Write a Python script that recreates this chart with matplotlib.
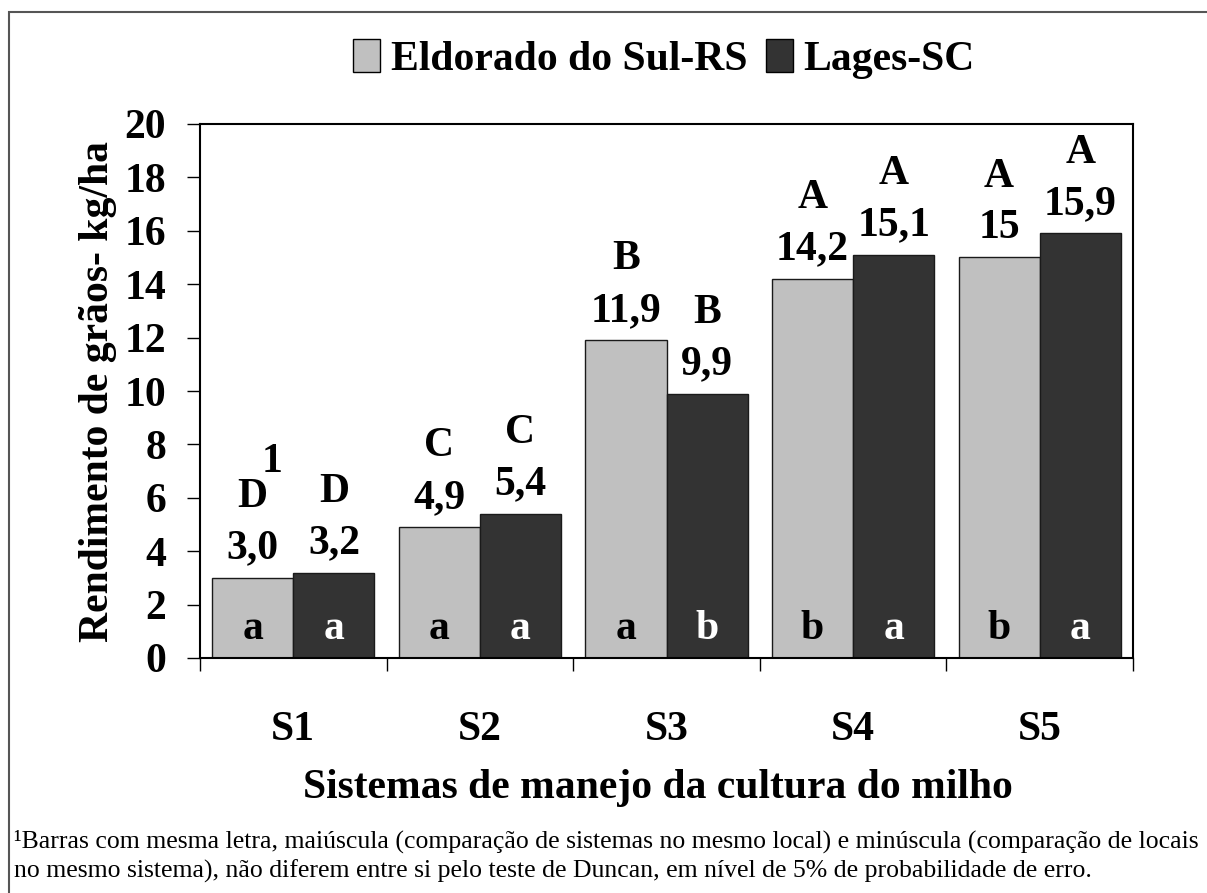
import matplotlib
matplotlib.use('Agg')
import matplotlib.pyplot as plt
import numpy as np
from matplotlib.patches import Patch, Rectangle

plt.rcParams['font.family'] = ['Liberation Serif', 'DejaVu Serif']

# data
systems = ['S1', 'S2', 'S3', 'S4', 'S5']
eldorado = [3.0, 4.9, 11.9, 14.2, 15.0]
lages = [3.2, 5.4, 9.9, 15.1, 15.9]
eldorado_txt = ['3,0', '4,9', '11,9', '14,2', '15']
lages_txt = ['3,2', '5,4', '9,9', '15,1', '15,9']
eldorado_upper = ['D', 'C', 'B', 'A', 'A']
lages_upper = ['D', 'C', 'B', 'A', 'A']
eldorado_lower = ['a', 'a', 'a', 'b', 'b']
lages_lower = ['a', 'a', 'b', 'a', 'a']

GRAY = '#c0c0c0'
DARK = '#333333'
FS = 30

W, H = 1207, 893
fig = plt.figure(figsize=(W / 100, H / 100), dpi=100)
ax = fig.add_axes([200 / W, 1 - 658 / H, 933 / W, 534 / H])

x = np.arange(len(systems))
bw = 0.435
ax.bar(x - bw / 2, eldorado, bw, color=GRAY, edgecolor='#1a1a1a', linewidth=1)
ax.bar(x + bw / 2, lages, bw, color=DARK, edgecolor='#1a1a1a', linewidth=1)

bold = dict(fontsize=FS, fontweight='bold', ha='center', va='baseline')
for i in range(len(systems)):
    for xpos, val, txt, up, low, lc in [
        (x[i] - bw / 2, eldorado[i], eldorado_txt[i], eldorado_upper[i], eldorado_lower[i], 'black'),
        (x[i] + bw / 2, lages[i], lages_txt[i], lages_upper[i], lages_lower[i], 'white'),
    ]:
        ax.annotate(txt, (xpos, val), xytext=(0, 14), textcoords='offset points', **bold)
        ax.annotate(up, (xpos, val), xytext=(0, 51), textcoords='offset points', **bold)
        ax.text(xpos, 0.7, low, color=lc, **bold)

# footnote marker next to the first letter
ax.annotate('1', (x[0] - bw / 2, eldorado[0]), xytext=(14, 76),
            textcoords='offset points', **bold)

ax.set_xlim(-0.5, len(systems) - 0.5)
ax.set_ylim(0, 20)
ax.set_yticks(np.arange(0, 21, 2))
ax.set_xticks(np.arange(-0.5, len(systems), 1.0))
ax.set_xticklabels([])
ax.set_xticks(x, systems, minor=True)
ax.tick_params(axis='y', which='major', direction='out', length=9.5, width=1,
               pad=15, labelsize=FS)
ax.tick_params(axis='x', which='major', direction='out', length=9.5, width=1)
ax.tick_params(axis='x', which='minor', length=0, pad=38, labelsize=FS)
for lab in ax.get_yticklabels() + ax.get_xticklabels(minor=True):
    lab.set_fontweight('bold')
for sp in ax.spines.values():
    sp.set_linewidth(1.5)

fig.text(98 / W, 1 - 391 / H, 'Rendimento de grãos- kg/ha', rotation=90,
         ha='center', va='center', fontsize=FS, fontweight='bold')
fig.text(658 / W, 1 - 798 / H, 'Sistemas de manejo da cultura do milho',
         ha='center', va='baseline', fontsize=FS, fontweight='bold')

handles = [Patch(facecolor=GRAY, edgecolor='black', linewidth=1, label='Eldorado do Sul-RS'),
           Patch(facecolor=DARK, edgecolor='black', linewidth=1, label='Lages-SC')]
leg = fig.legend(handles=handles, loc='center', bbox_to_anchor=(664 / W, 1 - 59 / H),
                 ncol=2, frameon=False, handlelength=0.65, handleheight=0.82,
                 handletextpad=0.25, columnspacing=0.45,
                 prop=dict(size=FS, weight='bold'))

fig.text(14 / W, 1 - 848 / H,
         '¹Barras com mesma letra, maiúscula (comparação de sistemas no mesmo local) '
         'e minúscula (comparação de locais',
         ha='left', va='baseline', fontsize=18.5)
fig.text(14 / W, 1 - 878 / H,
         'no mesmo sistema), não diferem entre si pelo teste de Duncan, '
         'em nível de 5% de probabilidade de erro.',
         ha='left', va='baseline', fontsize=18.5)

# outer frame, open to the right and bottom like the source
fig.patches.append(Rectangle((9 / W, -0.1), 1.2, 1 - 12 / H + 0.1,
                             transform=fig.transFigure, fill=False,
                             edgecolor='#555555', linewidth=1.5))

fig.savefig('out.png', dpi=100, facecolor='white')
